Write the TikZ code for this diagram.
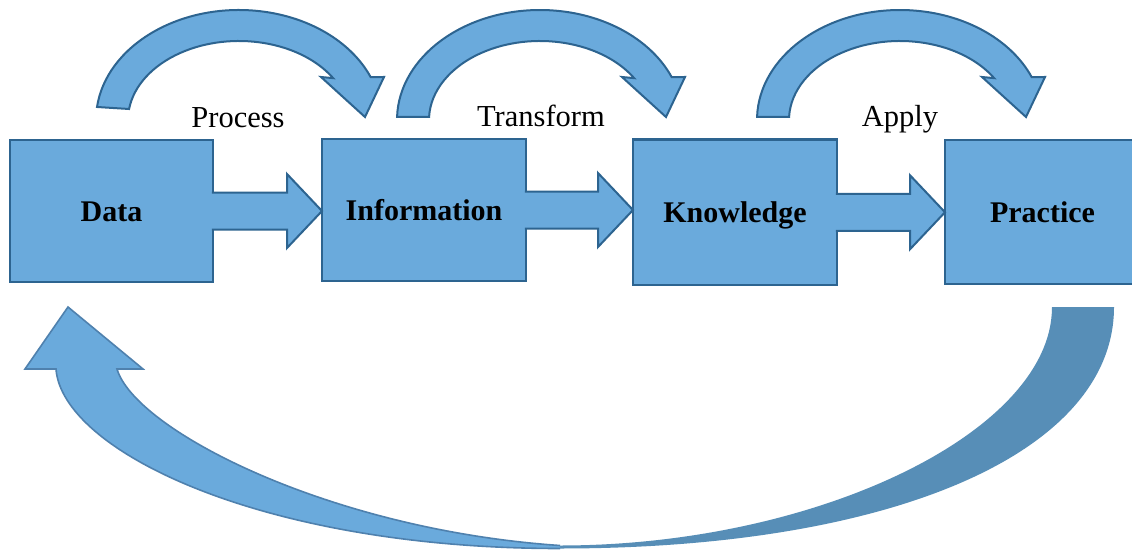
\documentclass[tikz,border=0pt]{standalone}
\usepackage{fontspec}
\setmainfont{Liberation Serif}
\usetikzlibrary{calc}
\definecolor{fillblue}{HTML}{6AAADC}
\definecolor{edgeblue}{HTML}{2D6490}
\definecolor{backblue}{HTML}{578EB7}
\definecolor{softedge}{HTML}{4F81AE}
\tikzset{
  stagebox/.style={draw=edgeblue, fill=fillblue, line width=2.2pt, rectangle, inner sep=0pt, outer sep=0pt,
    text height=20pt, text depth=0pt, font=\fontsize{30}{36}\selectfont\bfseries},
  flowarrow/.style={draw=edgeblue, fill=fillblue, line width=2pt, line join=miter},
  looparrow/.style={draw=edgeblue, fill=fillblue, line width=2pt, line join=miter},
  steplabel/.style={font=\fontsize{30.5}{36}\selectfont, anchor=base, inner sep=0pt},
  backarrow/.style={fill=backblue},
  returnarrow/.style={draw=softedge, fill=fillblue, line width=1.6pt, line join=miter},
}
\newcommand\blockarr[2]{%
  \coordinate (tip-#1) at (#2.west |- #1.east);
  \path[flowarrow] ($(#1.east)+(-1.2,18.5)$) -- ($(tip-#1)+(-35,18.5)$) -- ($(tip-#1)+(-35,37)$)
    -- (tip-#1) -- ($(tip-#1)+(-35,-37)$) -- ($(tip-#1)+(-35,-18.5)$) -- ($(#1.east)+(-1.2,-18.5)$);}
\newcommand\looparr[3]{%
  \path[looparrow] ([shift={(#2:143 and 110)}]#1,430)
    arc[start angle=#2, end angle=23, x radius=143, y radius=110]
    -- (#1+145,473) -- (#1+126,433) -- (#1+82,473)
    -- ([shift={(32:111 and 79)}]#1,430)
    arc[start angle=32, end angle=#3, x radius=111, y radius=79] -- cycle;}
\begin{document}
\begin{tikzpicture}[x=1pt,y=1pt]
\useasboundingbox (0,0) rectangle (1132,550);
\fill[white] (0,0) rectangle (1132,550);
% stages
\node[stagebox, minimum width=203pt, minimum height=142pt] (data) at (111.5,339) {Data};
\node[stagebox, minimum width=204pt, minimum height=142pt] (info) at (424,340) {Information};
\node[stagebox, minimum width=204pt, minimum height=145.5pt] (know) at (735,337.75) {Knowledge};
\node[stagebox, minimum width=195pt, minimum height=144pt] (prac) at (1042.5,338) {Practice};
% block arrows
\blockarr{data}{info}
\blockarr{info}{know}
\blockarr{know}{prac}
% curved arrows on top
\looparr{239}{173.2}{172}
\looparr{540}{178.4}{177.8}
\looparr{900}{178.4}{177.8}
\node[steplabel] (lproc) at (238,422) {Process};
\node[steplabel] (ltrans) at (541,423) {Transform};
\node[steplabel] (lapply) at (900,423) {Apply};
% return arrow
\coordinate (rhead) at (68,243);
\path[backarrow] (1052,243) -- (1114,243) .. controls (1114,97) and (892,1.5) .. (560,1.5)
  -- (560,4.5) .. controls (816,4.5) and (1052,118) .. (1052,243) -- cycle;
\path[returnarrow] (560,4.5) .. controls (330,20) and (135,120) .. (117,181) -- (143,181)
  -- (rhead) -- (25,181) -- (56,181) .. controls (62,100) and (260,1.5) .. (560,1.5);
\end{tikzpicture}
\end{document}
